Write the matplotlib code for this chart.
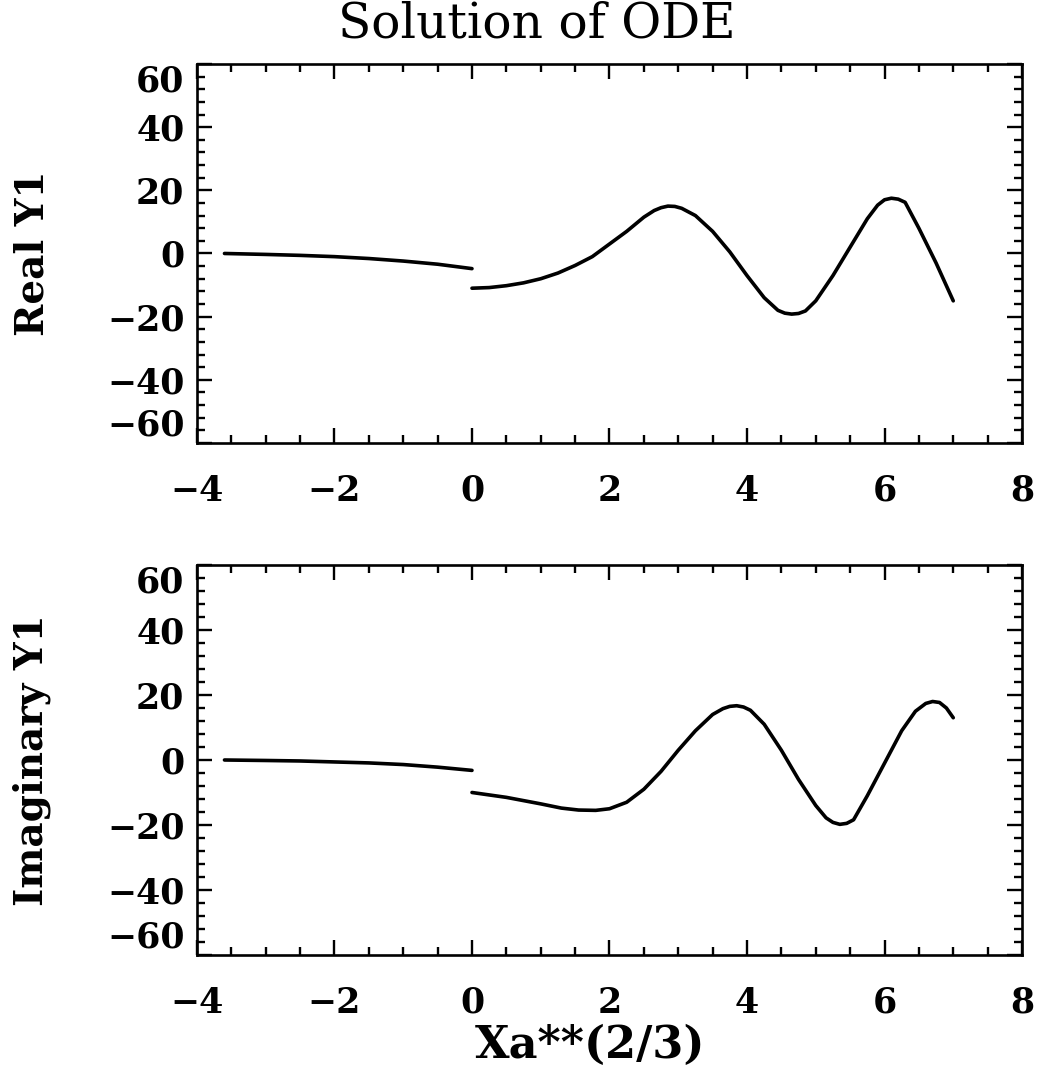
import matplotlib
matplotlib.use("Agg")
import matplotlib.pyplot as plt
from matplotlib.ticker import MultipleLocator

re_left_x = [-3.6, -3.0, -2.5, -2.0, -1.5, -1.0, -0.5, 0.0]
re_left_y = [0.0, -0.3, -0.6, -1.0, -1.6, -2.4, -3.4, -4.8]
re_right_x = [0.0, 0.25, 0.5, 0.75, 1.0, 1.25, 1.5, 1.75, 2.0, 2.25, 2.5, 2.65, 2.75, 2.85,
              2.95, 3.05, 3.25, 3.5, 3.75, 4.0, 4.25, 4.45, 4.55, 4.65, 4.75, 4.85, 5.0, 5.25,
              5.5, 5.75, 5.9, 6.0, 6.1, 6.2, 6.3, 6.5, 6.75, 7.0]
re_right_y = [-11.0, -10.8, -10.2, -9.3, -8.0, -6.2, -3.8, -1.0, 3.0, 7.0, 11.5, 13.6, 14.5, 15.0,
              14.9, 14.3, 12.0, 7.0, 0.5, -7.0, -14.0, -18.0, -18.9, -19.2, -19.0, -18.2, -15.0, -7.0,
              2.0, 11.0, 15.3, 17.0, 17.5, 17.2, 16.2, 8.0, -3.0, -15.0]

im_left_x = [-3.6, -3.0, -2.5, -2.0, -1.5, -1.0, -0.5, 0.0]
im_left_y = [0.0, -0.15, -0.3, -0.6, -0.9, -1.4, -2.2, -3.2]
im_right_x = [0.0, 0.5, 1.0, 1.3, 1.55, 1.8, 2.0, 2.25, 2.5, 2.75, 3.0, 3.25, 3.5, 3.65,
              3.75, 3.85, 3.95, 4.05, 4.25, 4.5, 4.75, 5.0, 5.15, 5.25, 5.35, 5.45, 5.55,
              5.75, 6.0, 6.25, 6.45, 6.6, 6.7, 6.8, 6.9, 7.0]
im_right_y = [-10.0, -11.5, -13.5, -14.8, -15.4, -15.5, -15.0, -13.0, -9.0, -3.5, 3.0, 9.0, 14.0, 15.8,
              16.5, 16.7, 16.3, 15.3, 11.0, 3.0, -6.0, -14.0, -17.8, -19.2, -19.8, -19.5, -18.4,
              -11.0, -1.0, 9.0, 15.0, 17.4, 18.0, 17.7, 16.0, 13.0]

x_ticks = [-4, -2, 0, 2, 4, 6, 8]
y_ticks = [-60, -40, -20, 0, 20, 40, 60]

serif = "DejaVu Serif"
fig = plt.figure(figsize=(10.4, 10.83), dpi=100)

ax1 = fig.add_axes([0.1894, 0.5910, 0.7933, 0.3499])
ax2 = fig.add_axes([0.1894, 0.1182, 0.7933, 0.3601])

panels = [
    (ax1, re_left_x, re_left_y, re_right_x, re_right_y, "Real Y1"),
    (ax2, im_left_x, im_left_y, im_right_x, im_right_y, "Imaginary Y1"),
]

for ax, lx, ly, rx, ry, ylab in panels:
    ax.plot(lx, ly, color="black", lw=2.6, solid_capstyle="round", solid_joinstyle="round")
    ax.plot(rx, ry, color="black", lw=2.6, solid_capstyle="round", solid_joinstyle="round")
    ax.set_xlim(-4, 8)
    ax.set_ylim(-60, 60)
    ax.set_xticks(x_ticks)
    ax.set_yticks(y_ticks)
    ax.xaxis.set_minor_locator(MultipleLocator(0.5))
    ax.yaxis.set_minor_locator(MultipleLocator(4))
    ax.tick_params(which="both", direction="in", top=True, right=True, width=1.7)
    ax.tick_params(which="major", length=11)
    ax.tick_params(which="minor", length=6)
    ax.tick_params(axis="x", pad=22)
    ax.tick_params(axis="y", pad=9)
    for sp in ax.spines.values():
        sp.set_linewidth(1.9)

    ax.set_xticklabels([str(v).replace("-", "\u2212") for v in x_ticks],
                       fontfamily=serif, fontsize=25, fontweight="bold")
    ax.set_yticklabels([str(v).replace("-", "\u2212") for v in y_ticks],
                       fontfamily=serif, fontsize=25, fontweight="bold")
    ticks = ax.yaxis.get_major_ticks()
    ticks[0].label1.set_va("bottom")
    ticks[-1].label1.set_va("top")

    pos = ax.get_position()
    fig.text(0.031, (pos.y0 + pos.y1) / 2, ylab, rotation=90, ha="center", va="center",
             fontfamily=serif, fontsize=28, fontweight="bold")

fig.text(0.516, 0.978, "Solution of ODE", ha="center", va="center",
         fontfamily=serif, fontsize=35)
fig.text(0.567, 0.035, "Xa**(2/3)", ha="center", va="center",
         fontfamily=serif, fontsize=32, fontweight="bold")

fig.savefig("out.png", dpi=100)
